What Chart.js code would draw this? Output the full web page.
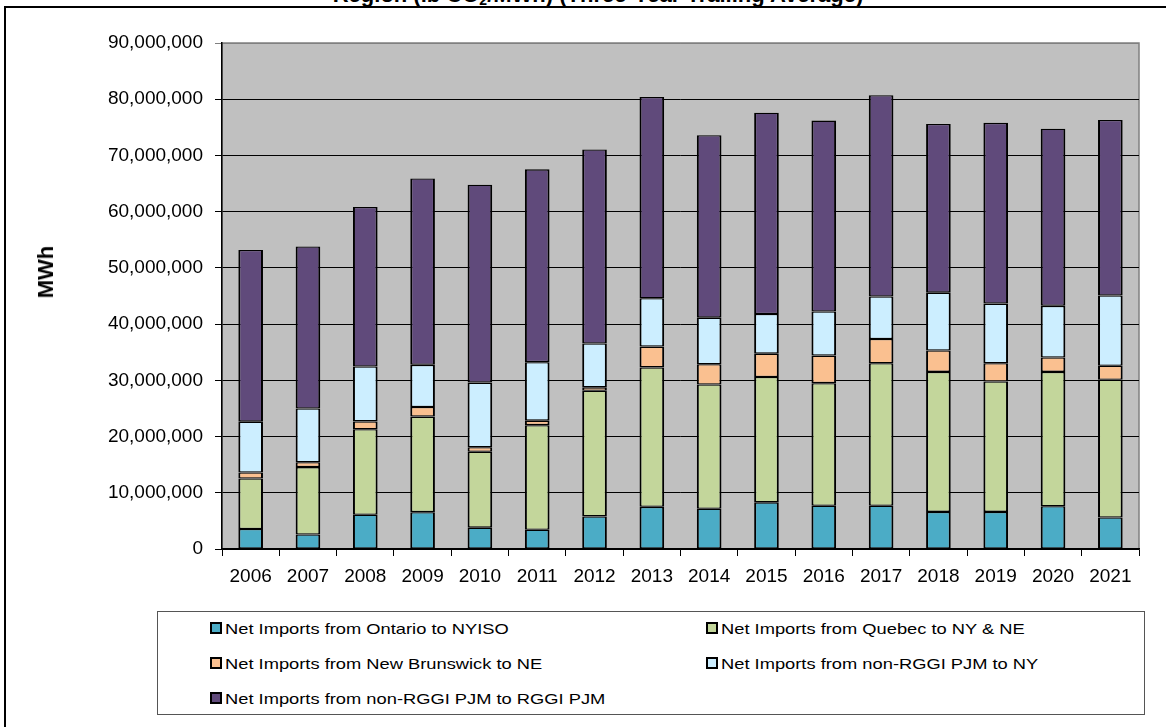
<!DOCTYPE html>
<html>
<head>
<meta charset="utf-8">
<script src="https://cdn.jsdelivr.net/npm/chart.js@4.4.1/dist/chart.umd.min.js"></script>
<style>
  html, body { margin: 0; padding: 0; background: #fff; }
  body { width: 1166px; height: 727px; position: relative; overflow: hidden; font-family: "Liberation Sans", Arial, sans-serif; }
  #frame { position: absolute; left: 4px; top: 6px; width: 1200px; height: 800px; border-top: 2px solid #000; border-left: 2px solid #000; }
  #title { position: absolute; left: 0; width: 1196px; top: -16px; line-height: 22px; text-align: center; font-size: 22px; font-weight: bold; color: #000; white-space: nowrap; }
  #title sub { font-size: 14px; vertical-align: -3px; line-height: 0; }
  #chart { position: absolute; left: 0; top: 0; }
  #ytitle { position: absolute; left: 46px; top: 272px; transform: translate(-50%, -50%) rotate(-90deg); font-size: 22px; font-weight: bold; white-space: nowrap; }
  #legend { position: absolute; left: 157px; top: 611px; width: 988px; height: 104px; border: 1.5px solid #555; box-sizing: border-box; }
  .item { position: absolute; height: 20px; display: flex; align-items: center; white-space: nowrap; }
  .swatch { width: 8px; height: 8px; border: 2px solid #000; margin-right: 3px; }
  .item span { font-size: 15px; display: inline-block; transform: scaleX(1.22); transform-origin: left center; color: #000; }
</style>
</head>
<body>
<div id="frame"></div>
<div id="title">Region (lb CO<sub>2</sub>/MWh) (Three-Year Trailing Average)</div>
<canvas id="chart" width="1166" height="600"></canvas>
<div id="ytitle">MWh</div>
<div id="legend"></div>
<script>
const years = ['2006', '2007', '2008', '2009', '2010', '2011', '2012', '2013',
    '2014', '2015', '2016', '2017', '2018', '2019', '2020', '2021'];

// MWh per year, bottom of the stack first
const ontarioToNyiso = [3550000, 2570000, 6100000, 6550000, 3800000, 3430000, 5800000, 7500000,
    7150000, 8300000, 7700000, 7700000, 6600000, 6600000, 7600000, 5600000];
const quebecToNyNe = [9000000, 12000000, 15200000, 17000000, 13500000, 18600000, 22350000, 24800000,
    22100000, 22300000, 21800000, 25350000, 24900000, 23200000, 23900000, 24500000];
const newBrunswickToNe = [1050000, 860000, 1400000, 1700000, 800000, 800000, 600000, 3700000,
    3600000, 4150000, 4900000, 4300000, 3800000, 3250000, 2550000, 2500000];
const pjmToNy = [9050000, 9570000, 9750000, 7500000, 11500000, 10400000, 7800000, 8600000,
    8300000, 7050000, 7850000, 7550000, 10300000, 10600000, 9200000, 12500000];
const pjmToRggiPjm = [30550000, 28800000, 28400000, 33150000, 35200000, 34300000, 34500000, 35800000,
    32450000, 35800000, 33950000, 35800000, 30000000, 32150000, 31500000, 31200000];

const seriesNames = [
    'Net Imports from Ontario to NYISO',
    'Net Imports from Quebec to NY & NE',
    'Net Imports from New Brunswick to NE',
    'Net Imports from non-RGGI PJM to NY',
    'Net Imports from non-RGGI PJM to RGGI PJM'
];
const seriesValues = [ontarioToNyiso, quebecToNyNe, newBrunswickToNe, pjmToNy, pjmToRggiPjm];
const seriesColors = ['#4bacc6', '#c3d69b', '#fac090', '#cceeff', '#604a7b'];

Chart.defaults.font.family = '"Liberation Sans", Arial, sans-serif';
Chart.defaults.color = '#000';

// grey plot area with a thin darker outline
const plotBackground = {
    id: 'plotBackground',
    beforeDraw(chart) {
        const {ctx, chartArea: a} = chart;
        ctx.save();
        ctx.fillStyle = '#c0c0c0';
        ctx.fillRect(a.left, a.top, a.width, a.height);
        ctx.strokeStyle = '#808080';
        ctx.lineWidth = 1.5;
        ctx.strokeRect(a.left, a.top, a.width, a.height);
        ctx.restore();
    }
};

const data = {
    labels: years,
    datasets: seriesNames.map(function(name, i) {
        return {
            label: name,
            data: seriesValues[i],
            backgroundColor: seriesColors[i],
            borderColor: '#000',
            // thinner top/bottom so the shared edge between stacked pieces stays ~2px
            borderWidth: { top: 1.3, bottom: 1.3, left: 2, right: 2 },
            borderSkipped: false,
            barPercentage: 0.43,
            categoryPercentage: 1.0
        };
    })
};

const config = {
    type: 'bar',
    data: data,
    plugins: [plotBackground],
    options: {
        responsive: false,
        animation: false,
        layout: { padding: { left: 0, top: 43, right: 27, bottom: 6 } },
        plugins: {
            legend: { display: false },
            tooltip: { enabled: false }
        },
        scales: {
            x: {
                stacked: true,
                afterFit: function(scale) { scale.height = 45; },
                grid: { drawOnChartArea: false, drawTicks: true, tickLength: 7, color: '#000', lineWidth: 1 },
                border: { color: '#000', width: 1.5 },
                ticks: { font: { size: 19 }, padding: 9, maxRotation: 0 }
            },
            y: {
                stacked: true,
                min: 0,
                max: 90000000,
                afterFit: function(scale) { scale.width = 222; },
                grid: {
                    color: function(ctx) { return ctx.tick && ctx.tick.value === 90000000 ? '#808080' : '#000'; },
                    lineWidth: 1,
                    tickLength: 7
                },
                border: { color: '#000', width: 1.5 },
                ticks: {
                    stepSize: 10000000,
                    padding: 12,
                    font: { size: 19 },
                    callback: function(value) { return value.toLocaleString('en-US'); }
                }
            }
        }
    }
};

const chart = new Chart(document.getElementById('chart'), config);

// two-column boxed legend below the plot
const legend = document.getElementById('legend');
const slots = [[52, 6], [548, 6], [52, 41], [548, 41], [52, 76]];
chart.data.datasets.forEach(function(ds, i) {
    const item = document.createElement('div');
    item.className = 'item';
    item.style.left = slots[i][0] + 'px';
    item.style.top = slots[i][1] + 'px';
    const sw = document.createElement('div');
    sw.className = 'swatch';
    sw.style.background = ds.backgroundColor;
    const txt = document.createElement('span');
    txt.textContent = ds.label;
    item.appendChild(sw);
    item.appendChild(txt);
    legend.appendChild(item);
});
</script>
</body>
</html>
